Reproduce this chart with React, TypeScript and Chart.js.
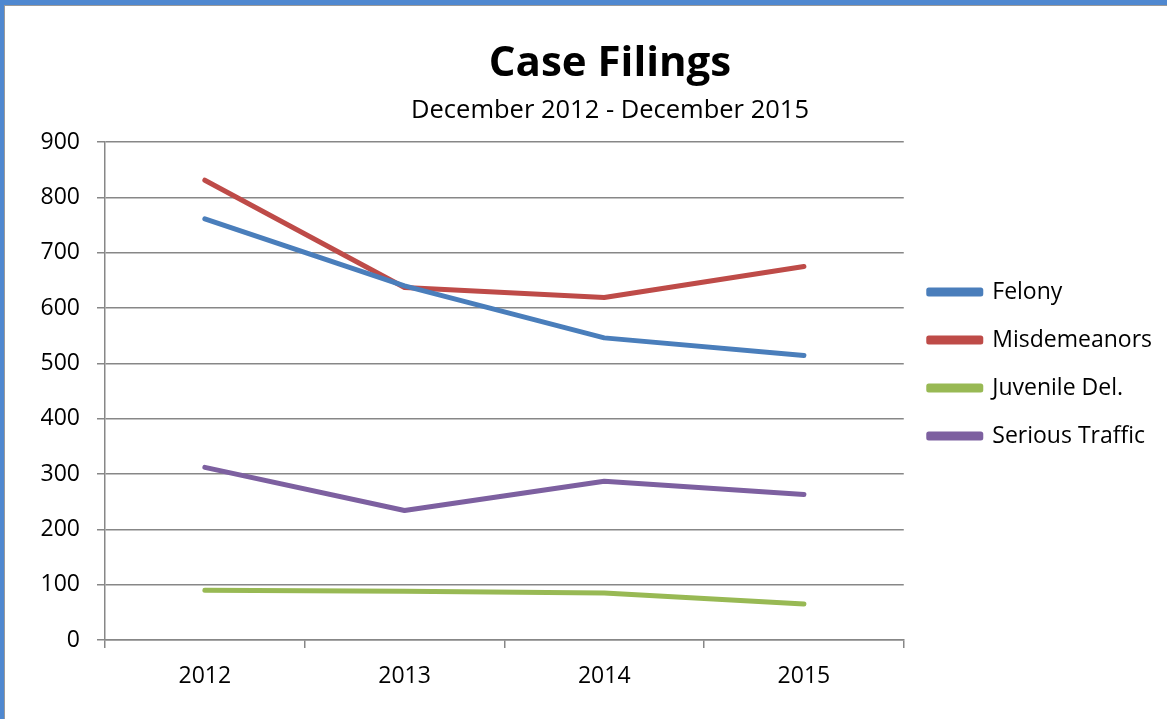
import React, { useEffect, useRef } from "react";
import { Chart, registerables } from "chart.js";

Chart.register(...registerables);

const years = ["2012", "2013", "2014", "2015"];
const felony = [761, 640, 546, 514];
const misdemeanors = [831, 637, 619, 675];
const juvenileDel = [90, 88, 85, 65];
const seriousTraffic = [312, 234, 287, 263];
const yTicks = [0, 100, 200, 300, 400, 500, 600, 700, 800, 900];

const FONT = "'Open Sans', 'Liberation Sans', sans-serif";
const GRID = "#878787";

// let the y tick labels draw into the left layout padding (labels are clipped to the scale box)
const widenYLabelArea = {
  id: "widenYLabelArea",
  afterLayout(chart: any) {
    const y = chart.scales.y;
    if (y) y.left = 0;
  },
};

export default function App() {
  const ref = useRef<HTMLCanvasElement | null>(null);
  useEffect(() => {
    if (!ref.current) return;
    const mk = (label: string, data: number[], color: string) => ({
      label,
      data,
      borderColor: color,
      backgroundColor: color,
      borderWidth: 5,
      borderCapStyle: "round" as const,
      borderJoinStyle: "round" as const,
      pointRadius: 0,
      tension: 0,
    });
    const chart = new Chart(ref.current, {
      type: "line",
      plugins: [widenYLabelArea],
      data: {
        labels: years,
        datasets: [
          mk("Felony", felony, "#4A7EBB"),
          mk("Misdemeanors", misdemeanors, "#BE4B48"),
          mk("Juvenile Del.", juvenileDel, "#98B954"),
          mk("Serious Traffic", seriousTraffic, "#7D60A0"),
        ],
      },
      options: {
        animation: false,
        responsive: false,
        maintainAspectRatio: false,
        layout: { padding: { top: 3, left: 52, right: 54, bottom: 0 } },
        plugins: {
          title: {
            display: true,
            text: "Case Filings",
            color: "#000",
            font: { family: FONT, size: 42, weight: "bold" },
            padding: { top: 30, bottom: 0 },
          },
          subtitle: {
            display: true,
            text: "December 2012 - December 2015",
            color: "#000",
            font: { family: FONT, size: 25.5 },
            padding: { top: 6, bottom: 16 },
          },
          legend: {
            position: "right",
            labels: {
              boxWidth: 52,
              boxHeight: 4,
              color: "#000",
              padding: 25,
              font: { family: FONT, size: 23 },
            },
          },
          tooltip: { enabled: false },
        },
        scales: {
          x: {
            offset: true,
            afterFit: (s: any) => {
              s.height = 79;
            },
            grid: {
              offset: true,
              drawOnChartArea: false,
              drawTicks: true,
              tickLength: 8,
              color: GRID,
              lineWidth: 1.5,
            },
            border: { color: GRID, width: 1.5 },
            ticks: {
              color: "#000",
              font: { family: FONT, size: 23 },
              padding: 15,
            },
          },
          y: {
            min: 0,
            max: 900,
            afterBuildTicks: (s: any) => {
              s.ticks = yTicks.map((v) => ({ value: v }));
            },
            afterFit: (s: any) => {
              s.width = 47;
            },
            grid: {
              color: GRID,
              lineWidth: 1.5,
              tickLength: 8,
            },
            border: { color: GRID, width: 1.5 },
            ticks: {
              color: "#000",
              font: { family: FONT, size: 23 },
              padding: 17,
            },
          },
        },
      },
    });
    return () => chart.destroy();
  }, []);

  return (
    <div
      style={{
        position: "fixed",
        left: 0,
        top: 0,
        width: 1167,
        height: 719,
        overflow: "hidden",
        background: "#fff",
      }}
    >
      <div style={{ position: "absolute", left: 0, top: 0, width: 1167, height: 5, background: "#4F88D0" }} />
      <div style={{ position: "absolute", left: 0, top: 0, width: 4, height: 719, background: "#4F88D0" }} />
      <div style={{ position: "absolute", left: 4, top: 5, width: 1163, height: 1, background: "#9a9a9a" }} />
      <div style={{ position: "absolute", left: 4, top: 5, width: 1, height: 714, background: "#9a9a9a" }} />
      <canvas
        ref={ref}
        width={1210}
        height={713}
        style={{ position: "absolute", left: 6, top: 6, width: 1210, height: 713 }}
      />
    </div>
  );
}
